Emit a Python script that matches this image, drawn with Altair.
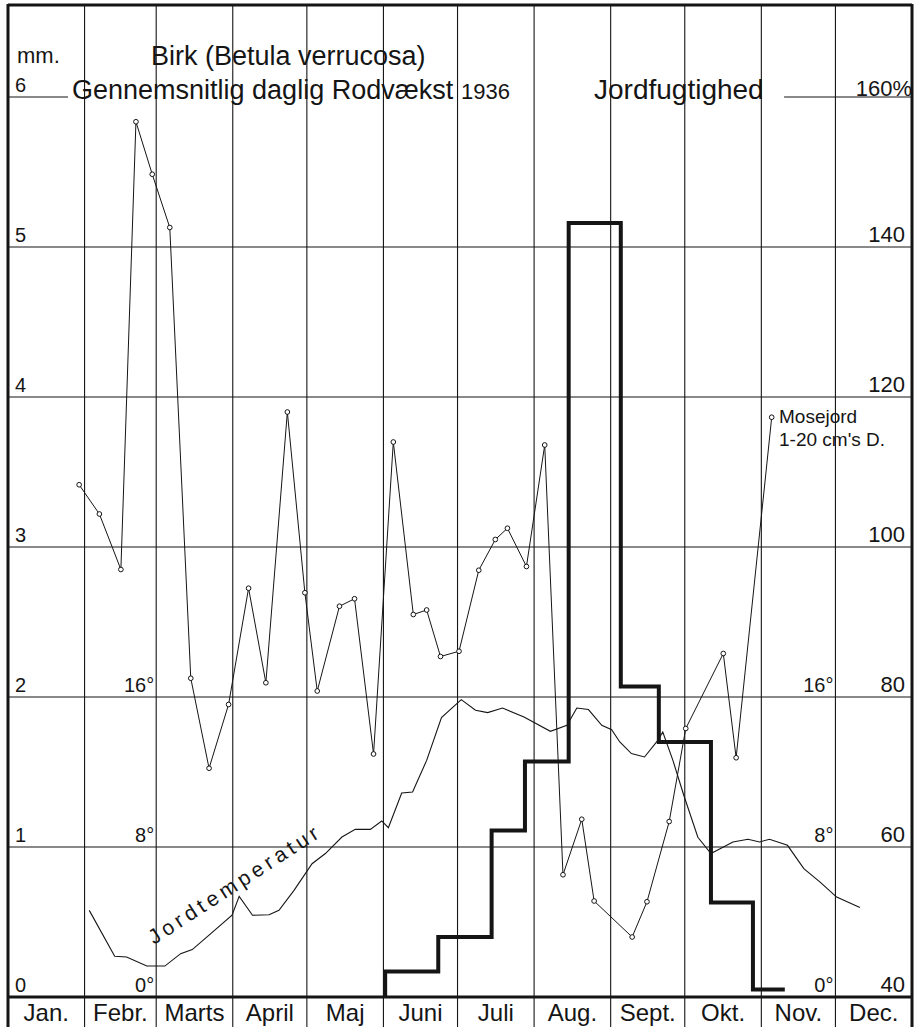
import math
import altair as alt
import pandas as pd

# ---- plot geometry ----
W, H = 904, 992            # plot area in pixels
PX_PER_MM = 150            # one millimetre of daily root growth
Y_MAX = H / PX_PER_MM      # top edge of the growth scale (mm)
DAYS = 366                 # 1936 was a leap year
FONT = "Liberation Sans"
INK = "#151515"

month_names = ["Jan.", "Febr.", "Marts", "April", "Maj", "Juni",
               "Juli", "Aug.", "Sept.", "Okt.", "Nov.", "Dec."]
month_len = [31, 29, 31, 30, 31, 30, 31, 31, 30, 31, 30, 31]

# Soil moisture, bog soil 1-20 cm depth (% ), by day of year
moist_day = [28.8, 37.0, 45.7, 51.8, 58.4, 65.5, 74.0, 81.4, 89.3, 97.4,
             104.4, 113.1, 120.2, 125.2, 134.2, 140.3, 148.0, 156.0, 164.1, 169.5,
             175.1, 182.6, 190.6, 197.3, 202.2, 209.9, 217.3, 224.7, 232.3, 237.3,
             252.7, 258.7, 267.7, 274.4, 289.6, 294.8, 309.2]
moist_pct = [108.3, 104.4, 97.0, 156.7, 149.7, 142.6, 82.5, 70.5, 79.0, 94.5,
             81.9, 118.0, 93.9, 80.8, 92.1, 93.1, 72.4, 114.0, 91.0, 91.6,
             85.4, 86.1, 96.9, 101.0, 102.5, 97.4, 113.6, 56.3, 63.7, 52.8,
             48.0, 52.7, 63.4, 75.8, 85.8, 71.9, 117.3]

# Soil temperature (deg C), by day of year
temp_day = [32.9, 43.2, 48.0, 56.2, 63.5, 69.9, 74.6, 82.1, 90.7, 93.6,
            99.0, 105.7, 109.7, 115.8, 123.1, 128.5, 135.2, 140.6, 146.7, 151.3,
            154.0, 159.4, 163.8, 169.5, 175.5, 183.5, 189.3, 194.2, 200.2, 208.9,
            219.6, 226.3, 230.3, 235.0, 240.4, 244.4, 247.7, 252.4, 257.7, 263.1,
            265.1, 269.2, 273.6, 279.3, 284.6, 293.5, 299.6, 304.3, 308.3, 315.6,
            322.2, 328.8, 335.5, 344.9]
temp_c = [4.62, 2.17, 2.13, 1.65, 1.65, 2.31, 2.53, 3.38, 4.36, 5.37,
          4.36, 4.39, 4.62, 5.69, 7.11, 7.65, 8.53, 8.94, 8.94, 9.39,
          9.03, 10.88, 10.93, 12.62, 14.90, 15.86, 15.29, 15.17, 15.41, 14.93,
          14.17, 14.49, 15.41, 15.33, 14.49, 14.26, 13.60, 12.98, 12.80, 13.69,
          14.13, 12.62, 10.76, 8.52, 7.65, 8.27, 8.41, 8.27, 8.41, 8.09,
          6.85, 6.13, 5.33, 4.77]

# Mean daily root growth (mm) per measuring period
growth_start = [152.7, 174.2, 195.8, 209.3, 227.0, 248.1, 263.5, 284.6, 301.6]
growth_end = 314.5
growth_mm = [0.17, 0.40, 1.11, 1.57, 5.16, 2.07, 1.70, 0.63, 0.05]

mm_labels = ["0", "1", "2", "3", "4", "5", "6"]
pct_labels = ["40", "60", "80", "100", "120", "140"]
deg_labels = ["0°", "8°", "16°"]

# ---- derived tables ----
edges = [0]
for n in month_len:
    edges.append(edges[-1] + n)
months = pd.DataFrame({"name": month_names,
                       "mid": [(a + b) / 2 for a, b in zip(edges[:-1], edges[1:])]})
inner_v = pd.DataFrame({"day": edges[1:-1]})
outer_v = pd.DataFrame({"day": [0, DAYS]})
hgrid = pd.DataFrame({"mm": [1, 2, 3, 4, 5]})
hgrid6 = pd.DataFrame({"a": [0, 314.2], "b": [24.3, DAYS], "mm": [6, 6]})

moist = pd.DataFrame({"day": moist_day, "pct": moist_pct})
moist["mm"] = (moist["pct"] - 40) / 20
temp = pd.DataFrame({"day": temp_day, "c": temp_c})
temp["mm"] = temp["c"] / 8
steps = pd.DataFrame({"day": [growth_start[0]] + growth_start + [growth_end],
                      "mm": [0] + growth_mm + [growth_mm[-1]]})
steps["i"] = range(len(steps))

left_lab = pd.DataFrame({"mm": range(len(mm_labels)), "t": mm_labels})
right_lab = pd.DataFrame({"mm": range(len(pct_labels)), "t": pct_labels})
deg_lab = pd.DataFrame({"mm": [0, 1, 2] * 2, "t": deg_labels * 2,
                        "day": [edges[2]] * 3 + [edges[11]] * 3})

xs = alt.Scale(domain=[0, DAYS], nice=False, zero=False)
ys = alt.Scale(domain=[0, Y_MAX], nice=False, zero=False)


def X(f):
    return alt.X(f, type="quantitative", scale=xs, axis=None)


def Y(f):
    return alt.Y(f, type="quantitative", scale=ys, axis=None)


def note(txt, x, y, size, align="left"):
    return alt.Chart(pd.DataFrame({"t": [txt]})).mark_text(
        align=align, baseline="alphabetic", fontSize=size, font=FONT, color=INK
    ).encode(text="t:N", x=alt.value(x), y=alt.value(y))


# "Jordtemperatur" written letter by letter along the rising curve
word = "Jordtemperatur"
adv = {"J": 0.5, "o": 0.556, "r": 0.333, "d": 0.556, "t": 0.278, "e": 0.556,
       "m": 0.833, "p": 0.556, "a": 0.556, "u": 0.556}
fs_word = 21
x0, y0 = 146.0, 940.0
theta = math.radians(33)
gap = (198 - sum(adv[c] for c in word) * fs_word) / (len(word) - 1)
rows, s = [], 0.0
for c in word:
    px = x0 + s * math.cos(theta)
    py = y0 - s * math.sin(theta)
    rows.append({"ch": c, "day": px * DAYS / W, "mm": (H - py) / PX_PER_MM})
    s += adv[c] * fs_word + gap
letters = pd.DataFrame(rows)

# ---- layers ----
grid_v = alt.Chart(inner_v).mark_rule(color=INK, strokeWidth=1.1).encode(
    x=X("day"), y=alt.value(0), y2=alt.value(H + 40))
border_v = alt.Chart(outer_v).mark_rule(color=INK, strokeWidth=3).encode(
    x=X("day"), y=alt.value(-1), y2=alt.value(H + 40))
grid_h = alt.Chart(hgrid).mark_rule(color=INK, strokeWidth=1.1).encode(
    y=Y("mm"), x=alt.value(0), x2=alt.value(W))
grid_h6 = alt.Chart(hgrid6).mark_rule(color=INK, strokeWidth=1.1).encode(
    y=Y("mm"), x=X("a"), x2=alt.X2("b"))
top_line = alt.Chart(pd.DataFrame({"mm": [Y_MAX]})).mark_rule(color=INK, strokeWidth=3).encode(
    y=Y("mm"), x=alt.value(0), x2=alt.value(W))
base_line = alt.Chart(pd.DataFrame({"mm": [0]})).mark_rule(color=INK, strokeWidth=3).encode(
    y=Y("mm"), x=alt.value(0), x2=alt.value(W))

temp_line = alt.Chart(temp).mark_line(color=INK, strokeWidth=1.1).encode(
    x=X("day"), y=Y("mm"))
moist_line = alt.Chart(moist).mark_line(color=INK, strokeWidth=1.0).encode(
    x=X("day"), y=Y("mm"))
moist_pts = alt.Chart(moist).mark_point(
    shape="circle", size=22, filled=True, fill="white", stroke=INK,
    strokeWidth=1.0, opacity=1).encode(x=X("day"), y=Y("mm"))
growth = alt.Chart(steps).mark_line(
    color=INK, strokeWidth=4, interpolate="step-after", strokeJoin="miter").encode(
    x=X("day"), y=Y("mm"), order="i:Q")

month_text = alt.Chart(months).mark_text(
    align="center", baseline="alphabetic", fontSize=24, font=FONT, color=INK).encode(
    x=X("mid"), y=alt.value(H + 24), text="name:N")
left_text = alt.Chart(left_lab).mark_text(
    align="left", baseline="alphabetic", fontSize=20, font=FONT, color=INK, dy=-5).encode(
    y=Y("mm"), x=alt.value(7), text="t:N")
right_text = alt.Chart(right_lab).mark_text(
    align="right", baseline="alphabetic", fontSize=22, font=FONT, color=INK, dy=-5).encode(
    y=Y("mm"), x=alt.value(W - 7), text="t:N")
deg_text = alt.Chart(deg_lab).mark_text(
    align="right", baseline="alphabetic", fontSize=20, font=FONT, color=INK, dy=-5, dx=-2).encode(
    y=Y("mm"), x=X("day"), text="t:N")
word_text = alt.Chart(letters).mark_text(
    align="left", baseline="alphabetic", fontSize=fs_word, font=FONT, color=INK, angle=327).encode(
    x=X("day"), y=Y("mm"), text="ch:N")

notes = [
    note("mm.", 9, 58, 22),
    note("Birk (Betula verrucosa)", 143, 60, 27),
    note("Gennemsnitlig daglig Rodvækst", 64, 94, 27),
    note("1936", 453, 94, 22),
    note("Jordfugtighed", 586, 94, 28),
    note("160%", W, 91, 22, align="right"),
    note("Mosejord", 771, 418, 19),
    note("1-20 cm's D.", 771, 441, 19),
]

chart = alt.layer(
    grid_v, grid_h, grid_h6, border_v, top_line, base_line,
    temp_line, moist_line, moist_pts, growth,
    month_text, left_text, right_text, deg_text, word_text, *notes
).properties(
    width=W, height=H,
    padding={"left": 8, "top": 5, "right": 4, "bottom": 30},
    autosize=alt.AutoSizeParams(type="none"),
).configure_view(stroke=None).configure(background="white")

chart.save("out.html", embed_options={"renderer": "svg", "actions": False})
